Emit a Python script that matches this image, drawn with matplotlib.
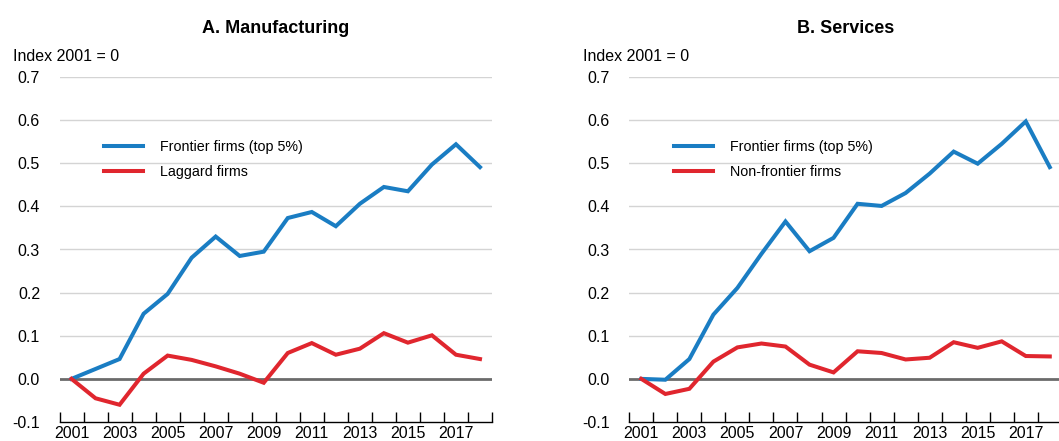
import matplotlib
matplotlib.use("Agg")
import matplotlib.pyplot as plt
import numpy as np

plt.rcParams["font.family"] = ["Liberation Sans", "DejaVu Sans"]

YEARS = list(range(2001, 2019))
TICK_YEARS = list(range(2001, 2019, 2))

# panel A: manufacturing
MAN_FRONTIER = [0.0, 0.023, 0.046, 0.151, 0.197, 0.281, 0.330, 0.285, 0.295,
                0.373, 0.387, 0.354, 0.406, 0.445, 0.435, 0.497, 0.544, 0.491]
MAN_LAGGARD = [0.0, -0.045, -0.060, 0.012, 0.054, 0.044, 0.029, 0.012, -0.009,
               0.060, 0.083, 0.056, 0.070, 0.106, 0.084, 0.101, 0.056, 0.046]

# panel B: services
SRV_FRONTIER = [0.0, -0.002, 0.046, 0.149, 0.211, 0.290, 0.365, 0.296, 0.327,
                0.406, 0.401, 0.431, 0.476, 0.527, 0.499, 0.545, 0.597, 0.491]
SRV_NONFRONTIER = [0.0, -0.035, -0.023, 0.040, 0.073, 0.082, 0.075, 0.033, 0.015,
                   0.064, 0.060, 0.045, 0.049, 0.085, 0.072, 0.087, 0.053, 0.052]

BLUE, RED = "#1a7dc3", "#e0262e"
W, H = 1059, 441


def panel(ax, title, s1, s2, lab1, lab2):
    x = np.arange(len(YEARS))
    ax.set_xlim(-0.5, len(YEARS) - 0.5)
    ax.set_ylim(-0.1, 0.7)
    ax.set_yticks(np.round(np.arange(-0.1, 0.71, 0.1), 1))
    ax.set_yticklabels([f"{v:.1f}" for v in np.arange(-0.1, 0.71, 0.1)])
    for v in np.arange(0.1, 0.71, 0.1):
        ax.axhline(v, color="#d4d4d4", lw=1.0, zorder=0)
    ax.axhline(0, color="#6b6b6b", lw=2.0, zorder=1)
    ax.plot(x, s1, color=BLUE, lw=2.9, label=lab1, zorder=3, solid_joinstyle="miter")
    ax.plot(x, s2, color=RED, lw=2.9, label=lab2, zorder=3, solid_joinstyle="miter")

    # year boundaries as minor ticks, labels at centres
    ax.set_xticks(np.arange(-0.5, len(YEARS), 1.0), minor=True)
    ax.set_xticks([YEARS.index(y) for y in TICK_YEARS])
    ax.set_xticklabels([str(y) for y in TICK_YEARS])
    ax.tick_params(axis="x", which="major", length=0, pad=3, labelsize=11.5)
    ax.tick_params(axis="x", which="minor", direction="in", length=7, width=1, color="black")
    ax.tick_params(axis="y", length=0, pad=14, labelsize=11.5)
    for s in ("left", "right", "top"):
        ax.spines[s].set_visible(False)
    ax.spines["bottom"].set_linewidth(1.0)

    ax.set_title(title, fontsize=13, fontweight="bold", pad=32)
    ax.text(-0.108, 1.06, "Index 2001 = 0", transform=ax.transAxes, fontsize=11.5,
            ha="left", va="center")
    ax.legend(loc="upper left", bbox_to_anchor=(0.103, 0.816), frameon=False,
              fontsize=10.3, handlelength=2.73, handletextpad=1.19, labelspacing=0.75,
              borderaxespad=0, borderpad=0)


fig = plt.figure(figsize=(W / 100, H / 100), dpi=100)
axA = fig.add_axes([59.5 / W, 19 / H, 432.5 / W, 345 / H])
axB = fig.add_axes([629.3 / W, 19 / H, 432.5 / W, 345 / H])
panel(axA, "A. Manufacturing", MAN_FRONTIER, MAN_LAGGARD,
      "Frontier firms (top 5%)", "Laggard firms")
panel(axB, "B. Services", SRV_FRONTIER, SRV_NONFRONTIER,
      "Frontier firms (top 5%)", "Non-frontier firms")

fig.savefig("out.png", dpi=100)
